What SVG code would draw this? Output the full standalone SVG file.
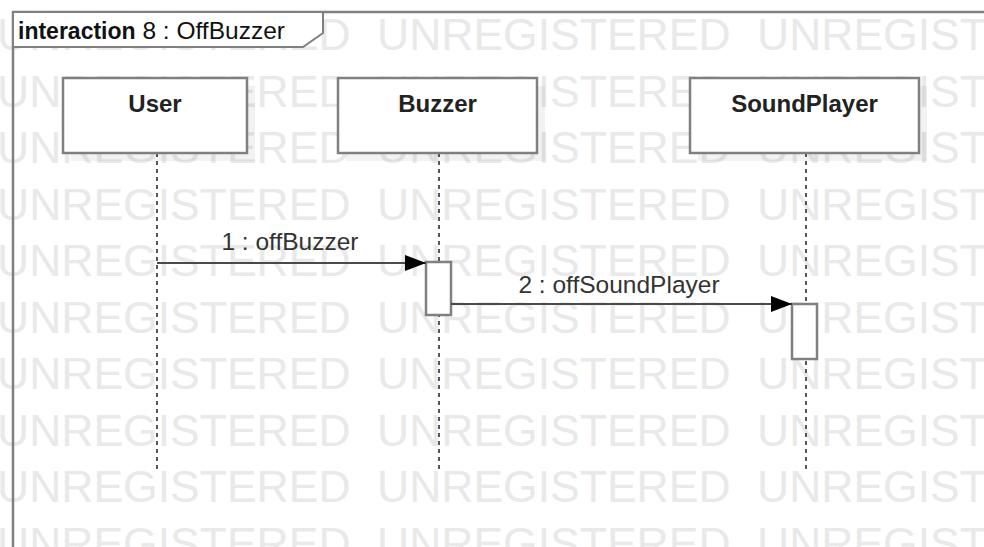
<svg xmlns="http://www.w3.org/2000/svg" width="984" height="547" viewBox="0 0 984 547">
<style>
.wm{font-family:"Liberation Sans",Arial,sans-serif;font-size:44.5px;fill:#e9e9e9}
.box{fill:#fff;stroke:#808080;stroke-width:2.5}
.shadow{fill:#000;fill-opacity:0.05}
.name{font-family:"Liberation Sans",Arial,sans-serif;font-size:24px;font-weight:bold;fill:#222;text-anchor:middle}
.life{stroke:#000;stroke-width:1.3;stroke-dasharray:4 4;fill:none}
.act{fill:#fff;stroke:#808080;stroke-width:2.5}
.msg{stroke:#4a4a4a;stroke-width:2;fill:none}
.lbl{font-family:"Liberation Sans",Arial,sans-serif;font-size:24.5px;fill:#333;text-anchor:middle}
.frame{fill:none;stroke:#808080;stroke-width:2.5}
.tag{fill:#fff;stroke:#808080;stroke-width:2}
.tagt{font-family:"Liberation Sans",Arial,sans-serif;font-size:24.5px;fill:#111}
.tagb{font-size:23px;font-weight:bold}
</style>
<defs>
<marker id="arr" markerUnits="userSpaceOnUse" markerWidth="22" markerHeight="18" refX="21" refY="8" orient="auto">
<path d="M0,0 L21,8 L0,16 Z" fill="#000"/>
</marker>
</defs>
<rect width="984" height="547" fill="#fff"/>
<g id="watermark">
<text class="wm" y="50"><tspan x="-3">UNREGISTERED</tspan><tspan x="377">UNREGISTERED</tspan><tspan x="757">UNREGISTERED</tspan></text>
<text class="wm" y="106.5"><tspan x="-3">UNREGISTERED</tspan><tspan x="377">UNREGISTERED</tspan><tspan x="757">UNREGISTERED</tspan></text>
<text class="wm" y="163"><tspan x="-3">UNREGISTERED</tspan><tspan x="377">UNREGISTERED</tspan><tspan x="757">UNREGISTERED</tspan></text>
<text class="wm" y="219.5"><tspan x="-3">UNREGISTERED</tspan><tspan x="377">UNREGISTERED</tspan><tspan x="757">UNREGISTERED</tspan></text>
<text class="wm" y="276"><tspan x="-3">UNREGISTERED</tspan><tspan x="377">UNREGISTERED</tspan><tspan x="757">UNREGISTERED</tspan></text>
<text class="wm" y="332.5"><tspan x="-3">UNREGISTERED</tspan><tspan x="377">UNREGISTERED</tspan><tspan x="757">UNREGISTERED</tspan></text>
<text class="wm" y="389"><tspan x="-3">UNREGISTERED</tspan><tspan x="377">UNREGISTERED</tspan><tspan x="757">UNREGISTERED</tspan></text>
<text class="wm" y="445.5"><tspan x="-3">UNREGISTERED</tspan><tspan x="377">UNREGISTERED</tspan><tspan x="757">UNREGISTERED</tspan></text>
<text class="wm" y="502"><tspan x="-3">UNREGISTERED</tspan><tspan x="377">UNREGISTERED</tspan><tspan x="757">UNREGISTERED</tspan></text>
<text class="wm" y="558.5"><tspan x="-3">UNREGISTERED</tspan><tspan x="377">UNREGISTERED</tspan><tspan x="757">UNREGISTERED</tspan></text>
</g>
<g id="frame">
<path class="frame" d="M13,560 V12 H1000"/>
<path class="tag" d="M13,12 H323 V33 L303,47 H13 Z"/>
<text class="tagt" x="18" y="39"><tspan class="tagb">interaction</tspan> 8 : OffBuzzer</text>
</g>
<g id="lifelines">
<line class="life" x1="157" y1="153" x2="157" y2="470"/>
<line class="life" x1="439" y1="153" x2="439" y2="470"/>
<line class="life" x1="806" y1="153" x2="806" y2="470"/>
</g>
<g id="User">
<rect class="shadow" x="71" y="86" width="184" height="75"/>
<rect class="box" x="63" y="78" width="184" height="75"/>
<text class="name" x="155" y="112">User</text>
</g>
<g id="Buzzer">
<rect class="shadow" x="346" y="86" width="199" height="75"/>
<rect class="box" x="338" y="78" width="199" height="75"/>
<text class="name" x="437.5" y="112">Buzzer</text>
<rect class="act" x="426" y="262" width="25" height="53"/>
</g>
<g id="SoundPlayer">
<rect class="shadow" x="698" y="86" width="229" height="75"/>
<rect class="box" x="690" y="78" width="229" height="75"/>
<text class="name" x="804.5" y="112">SoundPlayer</text>
<rect class="act" x="792" y="304" width="25" height="55"/>
</g>
<g id="connectors">
<line class="msg" x1="157" y1="263" x2="426" y2="263" marker-end="url(#arr)"/>
<text class="lbl" x="290" y="250">1 : offBuzzer</text>
<line class="msg" x1="451" y1="304" x2="792" y2="304" marker-end="url(#arr)"/>
<text class="lbl" x="619" y="293">2 : offSoundPlayer</text>
</g>
</svg>
